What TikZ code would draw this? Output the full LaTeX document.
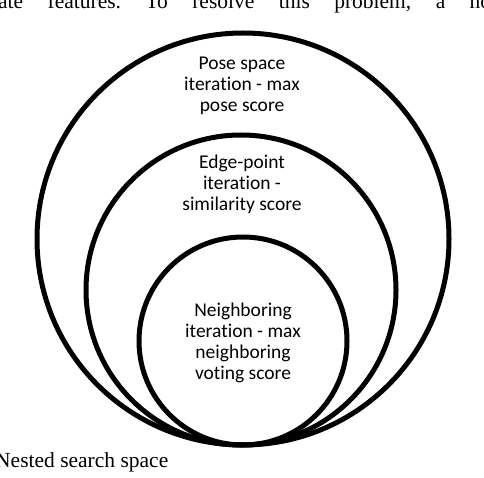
\documentclass[tikz,border=0pt]{standalone}
\usepackage{fontspec}
\setmainfont{Liberation Serif}
\newfontfamily\labfont[Ligatures=NoCommon]{Carlito}
\frenchspacing
\begin{document}
\begin{tikzpicture}[x=1pt,y=-1pt,
  ring/.style={line width=5pt,draw=black},
  lab/.style={anchor=base,inner sep=0pt,font=\labfont\fontsize{19.5}{21}\selectfont},
  body/.style={anchor=base west,inner sep=0pt,font=\fontsize{21.5}{24}\selectfont}]
\useasboundingbox (0,0) rectangle (484,478);
\clip (0,0) rectangle (484,478);
% nested circles, tangent at the bottom
\draw[ring] (243,239) circle[radius=206pt];
\draw[ring] (241,290) circle[radius=155pt];
\draw[ring] (243,341) circle[radius=104pt];
% labels
\node[lab] (pose) at (242,70) {\begin{tabular}[t]{@{}c@{}}Pose space\\iteration - max\\pose score\end{tabular}};
\node[lab] (edge) at (242,169) {\begin{tabular}[t]{@{}c@{}}Edge-point\\iteration -\\similarity score\end{tabular}};
\node[lab] (neigh) at (243,316) {\begin{tabular}[t]{@{}c@{}}Neighboring\\iteration - max\\neighboring\\voting score\end{tabular}};
% surrounding page text
\node[body] (toptext) at (-2,9) {\makebox[493pt][s]{\frenchspacing ate features. To resolve this problem, a no}};
\node[body] (caption) at (-5,467) {Nested search space};
\end{tikzpicture}
\end{document}
